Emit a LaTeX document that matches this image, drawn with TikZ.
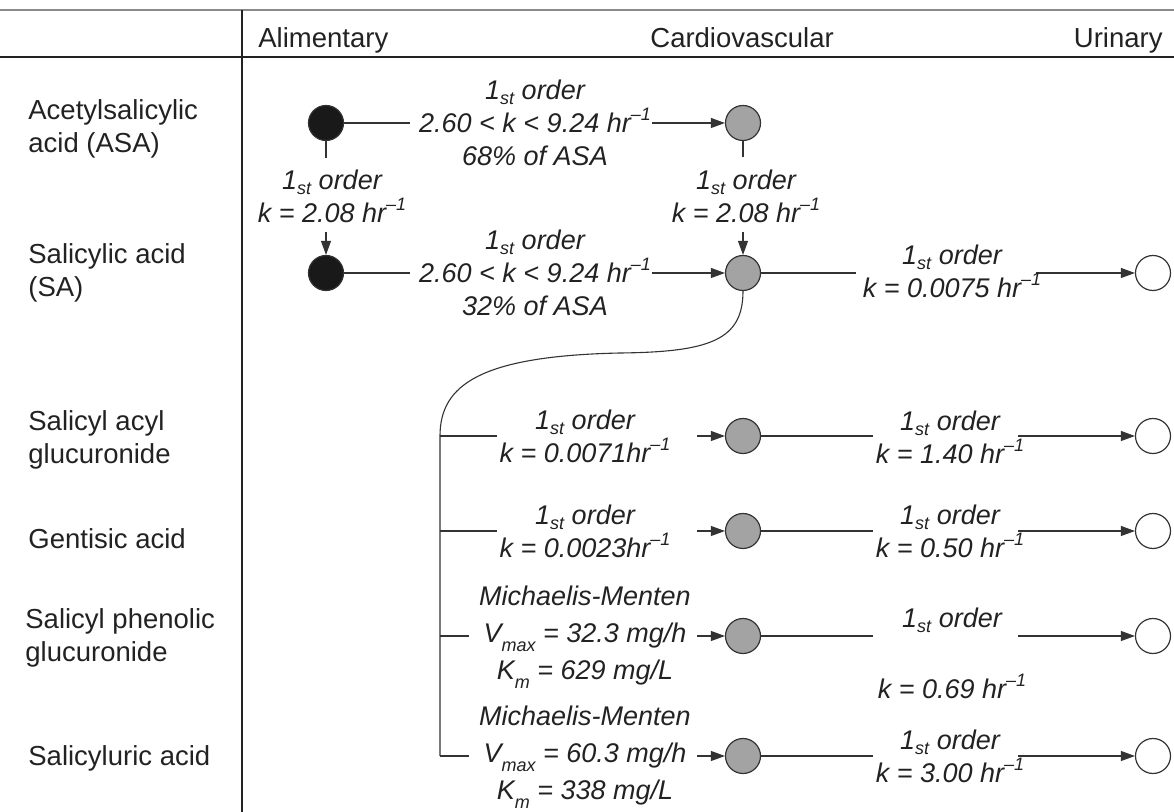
\documentclass[tikz,border=0pt]{standalone}
\usepackage{fontspec}
\setmainfont{Liberation Sans}
\usetikzlibrary{arrows.meta}
\definecolor{ink}{HTML}{222222}
\definecolor{linec}{HTML}{333333}
\definecolor{cgray}{HTML}{A3A3A4}
\definecolor{toprulec}{HTML}{8A8A8A}
\newcommand\first{1\raisebox{-0.35ex}{\fontsize{9}{9}\selectfont st}}
\newcommand\hrinv{hr\raisebox{0.85ex}{\fontsize{9}{9}\selectfont –1}}
\newcommand\Vmax{V\raisebox{-0.6ex}{\fontsize{9}{9}\selectfont max}}
\newcommand\Km{K\raisebox{-0.6ex}{\fontsize{9}{9}\selectfont m}}
\begin{document}
\begin{tikzpicture}[x=0.5pt,y=-0.5pt,
  every node/.style={text=ink, inner sep=0pt},
  rowlab/.style={font=\fontsize{13.75}{16.5}\selectfont, align=left, anchor=north west},
  head/.style={font=\fontsize{13.75}{16.5}\selectfont, anchor=north west},
  rate/.style={font=\fontsize{13.5}{16.5}\selectfont\itshape, align=center},
  cpt/.style={circle, draw=linec, line width=0.6pt, minimum size=17.5pt},
  alim/.style={cpt, fill=black!90},
  cardio/.style={cpt, fill=cgray},
  urin/.style={cpt, fill=white},
  conn/.style={draw=linec, line width=0.55pt},
  arr/.style={conn, -{Triangle[length=7pt,width=5pt]}},
]
\useasboundingbox (0,0) rectangle (1174,812);
% table rules
\draw[toprulec, line width=1pt] (0,10) -- (1174,10);
\draw[ink, line width=0.7pt] (0,57) -- (1174,57);
\draw[ink, line width=0.6pt] (242,10) -- (242,812);

% headers
\node[head] (hA) at (258,27.3) {Alimentary};
\node[head] (hC) at (650,27.3) {Cardiovascular};
\node[head, anchor=north east] (hU) at (1163,27.3) {Urinary};

% row labels
\node[rowlab] (rASA) at (28,99.5) {Acetylsalicylic\\acid (ASA)};
\node[rowlab] (rSA) at (28,243.5) {Salicylic acid\\(SA)};
\node[rowlab] (rAG) at (28,410.5) {Salicyl acyl\\glucuronide};
\node[rowlab] (rGA) at (28,528.5) {Gentisic acid};
\node[rowlab] (rPG) at (25,608.5) {Salicyl phenolic\\glucuronide};
\node[rowlab] (rSU) at (28,745.5) {Salicyluric acid};

% compartments
\node[alim] (a1) at (326,123) {};
\node[alim] (a2) at (326,273) {};
\node[cardio] (c1) at (743,123) {};
\node[cardio] (c2) at (743,273) {};
\node[cardio] (c3) at (743,436) {};
\node[cardio] (c4) at (743,531) {};
\node[cardio] (c5) at (743,636) {};
\node[cardio] (c6) at (743,756) {};
\node[urin] (u2) at (1153,273) {};
\node[urin] (u3) at (1153,436) {};
\node[urin] (u4) at (1153,531) {};
\node[urin] (u5) at (1153,636) {};
\node[urin] (u6) at (1153,756) {};

% gap ends of the connectors
\coordinate (g1a) at (410,123); \coordinate (g1b) at (652,123);
\coordinate (g2a) at (410,273); \coordinate (g2b) at (652,273);
\coordinate (g3a) at (326,158); \coordinate (g3b) at (326,232);
\coordinate (g4a) at (743,157); \coordinate (g4b) at (743,232);
\coordinate (g5a) at (856,273); \coordinate (g5b) at (1036,273);
\coordinate (bend) at (620,353);
\coordinate (b3) at (440,436); \coordinate (b4) at (440,531);
\coordinate (b5) at (440,636); \coordinate (b6) at (440,756);
\coordinate (s3) at (497,436); \coordinate (s4) at (497,531);
\coordinate (s5) at (469,636); \coordinate (s6) at (469,756);
\coordinate (t3) at (697,436); \coordinate (t4) at (697,531);
\coordinate (t5) at (697,636); \coordinate (t6) at (697,756);
\coordinate (v3) at (873,436); \coordinate (w3) at (1018,436);
\coordinate (v4) at (873,531); \coordinate (w4) at (1018,531);
\coordinate (v5) at (873,636); \coordinate (w5) at (1018,636);
\coordinate (v6) at (873,756); \coordinate (w6) at (1018,756);

% connectors
\draw[conn] (a1) -- (g1a); \draw[arr] (g1b) -- (c1);
\draw[conn] (a2) -- (g2a); \draw[arr] (g2b) -- (c2);
\draw[conn] (a1) -- (g3a); \draw[arr] (g3b) -- (a2);
\draw[conn] (c1) -- (g4a); \draw[arr] (g4b) -- (c2);
\draw[conn] (c2) -- (g5a); \draw[arr] (g5b) -- (u2);
\draw[conn] (c2.south) .. controls (743,340) and (710,352) .. (bend)
  .. controls (480,356) and (440,385) .. (b3) -- (b6);
\draw[conn] (b3) -- (s3); \draw[arr] (t3) -- (c3);
\draw[conn] (b4) -- (s4); \draw[arr] (t4) -- (c4);
\draw[conn] (b5) -- (s5); \draw[arr] (t5) -- (c5);
\draw[conn] (b6) -- (s6); \draw[arr] (t6) -- (c6);
\draw[conn] (c3) -- (v3); \draw[arr] (w3) -- (u3);
\draw[conn] (c4) -- (v4); \draw[arr] (w4) -- (u4);
\draw[conn] (c5) -- (v5); \draw[arr] (w5) -- (u5);
\draw[conn] (c6) -- (v6); \draw[arr] (w6) -- (u6);

% rate labels
\node[rate] (L1) at (535,123) {\first\ order\\2.60 < k < 9.24 \hrinv\\68\% of ASA};
\node[rate] (L2) at (535,273) {\first\ order\\2.60 < k < 9.24 \hrinv\\32\% of ASA};
\node[rate] (L3) at (332,196) {\first\ order\\k = 2.08 \hrinv};
\node[rate] (L4) at (746,196) {\first\ order\\k = 2.08 \hrinv};
\node[rate] (L5) at (952,271) {\first\ order\\k = 0.0075 \hrinv};
\node[rate] (L6) at (585,436) {\first\ order\\k = 0.0071\hrinv};
\node[rate] (L7) at (585,531) {\first\ order\\k = 0.0023\hrinv};
\node[rate] (L8) at (585,637) {Michaelis-Menten\\[2pt]\Vmax\ = 32.3 mg/h\\[2pt]\Km\ = 629 mg/L};
\node[rate] (L9) at (585,757) {Michaelis-Menten\\[2pt]\Vmax\ = 60.3 mg/h\\[2pt]\Km\ = 338 mg/L};
\node[rate] (L10) at (950,437) {\first\ order\\k = 1.40 \hrinv};
\node[rate] (L11) at (950,531) {\first\ order\\k = 0.50 \hrinv};
\node[rate] (L12) at (952,653) {\first\ order\\[19pt]k = 0.69 \hrinv};
\node[rate] (L13) at (950,756) {\first\ order\\k = 3.00 \hrinv};
\end{tikzpicture}
\end{document}
